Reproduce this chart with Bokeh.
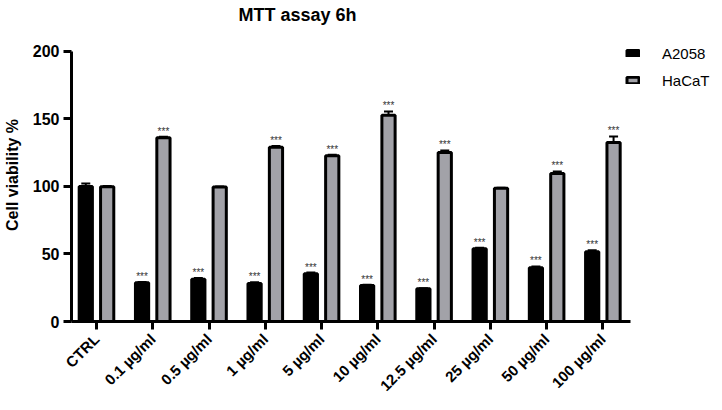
import numpy as np
from bokeh.plotting import figure
from bokeh.models import (ColumnDataSource, Range1d, FixedTicker, Whisker, Legend,
                          LegendItem)
from bokeh.transform import dodge
from bokeh.core.properties import value
from bokeh.embed import file_html
from bokeh.resources import INLINE

categories = ["CTRL", "0.1 µg/ml", "0.5 µg/ml", "1 µg/ml", "5 µg/ml", "10 µg/ml",
              "12.5 µg/ml", "25 µg/ml", "50 µg/ml", "100 µg/ml"]
a2058 = [100, 28.7, 31.2, 28.2, 35.4, 26.7, 24.2, 53.9, 39.8, 51.7]
a2058_err = [2.2, 0.6, 1.0, 0.8, 0.8, 0.6, 0.5, 0.8, 1.0, 1.0]
hacat = [99.8, 136.0, 99.6, 129.0, 122.7, 152.8, 125.1, 98.7, 109.6, 132.6]
hacat_err = [0.6, 0.8, 0.3, 1.0, 0.8, 2.8, 1.6, 0.3, 1.5, 4.5]
a2058_sig = ["", "***", "***", "***", "***", "***", "***", "***", "***", "***"]
hacat_sig = ["", "***", "", "***", "***", "***", "***", "", "***", "***"]

idx = list(range(len(categories)))
src = ColumnDataSource(dict(
    x=idx,
    a=a2058, a_up=[v + e for v, e in zip(a2058, a2058_err)], a_sig=a2058_sig,
    h=hacat, h_up=[v + e for v, e in zip(hacat, hacat_err)], h_sig=hacat_sig,
))

FONT = "Liberation Sans"
X0, X1 = -0.444, 9.49
p = figure(width=722, height=410, output_backend="svg", toolbar_location=None,
           x_range=Range1d(X0, 11.126), y_range=Range1d(0, 217.0),
           min_border_left=71, min_border_right=0, min_border_top=28,
           min_border_bottom=89)
p.outline_line_color = None
p.grid.grid_line_color = None

off = 0.19
bw = 0.235
ra = p.vbar(x=dodge("x", -off), top="a", width=bw, source=src,
            fill_color="black", line_color="black", line_width=3)
rh = p.vbar(x=dodge("x", off), top="h", width=bw, source=src,
            fill_color="#a2a2a8", line_color="black", line_width=3)

for col, up, d in (("a", "a_up", -off), ("h", "h_up", off)):
    w = Whisker(base=dodge("x", d), lower=col, upper=up, source=src,
                dimension="height", line_color="black", line_width=2)
    w.upper_head.size = 9
    w.upper_head.line_width = 2
    w.lower_head = None
    p.add_layout(w)

p.text(x=dodge("x", -off), y="a_up", text="a_sig", source=src,
       text_font=value(FONT), text_font_size="10px", text_color="#333333",
       text_align="center", text_baseline="bottom", y_offset=0)
p.text(x=dodge("x", off), y="h_up", text="h_sig", source=src,
       text_font=value(FONT), text_font_size="10px", text_color="#333333",
       text_align="center", text_baseline="bottom", y_offset=0)

# axes
p.xaxis.bounds = (X0, X1)
p.xaxis.ticker = FixedTicker(ticks=idx)
p.xaxis.major_label_overrides = {i: c for i, c in zip(idx, categories)}
p.xaxis.major_label_orientation = np.pi / 4
p.xaxis.minor_tick_line_color = None
p.yaxis.bounds = (0, 200)
p.yaxis.ticker = FixedTicker(ticks=[0, 50, 100, 150, 200])
p.yaxis.minor_tick_line_color = None
for ax in (p.xaxis, p.yaxis):
    ax.axis_line_width = 3
    ax.major_tick_line_width = 3
    ax.major_tick_out = 8
    ax.major_tick_in = 0
    ax.major_label_text_font = FONT
    ax.major_label_text_font_style = "bold"
    ax.major_label_text_color = "black"
p.xaxis.major_label_text_font_size = "15px"
p.xaxis.major_label_standoff = 7
p.yaxis.major_label_text_font_size = "16px"
p.yaxis.major_label_standoff = 4
p.yaxis.axis_label = "Cell viability %"
p.yaxis.axis_label_text_font = FONT
p.yaxis.axis_label_text_font_style = "bold"
p.yaxis.axis_label_text_font_size = "16px"
p.yaxis.axis_label_text_color = "black"
p.yaxis.axis_label_standoff = 9

p.title.text = "MTT assay 6h"
p.title.text_font = FONT
p.title.text_font_style = "bold"
p.title.text_font_size = "18px"
p.title.text_color = "black"
p.title.align = "left"
p.title.offset = 167
p.title.vertical_align = "top"
p.title.standoff = 4

legend = Legend(items=[LegendItem(label="A2058", renderers=[ra]),
                       LegendItem(label="HaCaT", renderers=[rh])],
                location=(554, 231), glyph_width=15, glyph_height=8,
                label_standoff=22, label_height=20, spacing=7, padding=0,
                margin=0, border_line_color=None, background_fill_alpha=0,
                label_text_font=FONT, label_text_font_size="15px",
                label_text_color="black")
p.add_layout(legend, "center")

open("out.html", "w").write(file_html(p, INLINE))
